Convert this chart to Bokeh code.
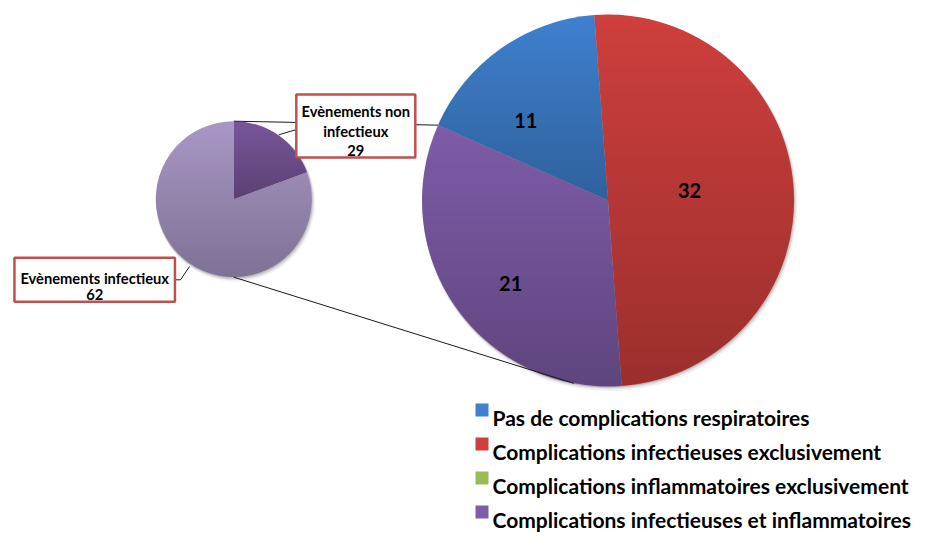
import numpy as np
from bokeh.plotting import figure
from bokeh.models import Range1d
from bokeh.core.properties import value
from bokeh.embed import file_html
from bokeh.resources import INLINE

# ---------------- data ----------------
small_labels = ["Evènements non infectieux", "Evènements infectieux"]
small_counts = [29, 62]
small_arc_share = [0.194, 0.806]          # arc shares as drawn in the reference
small_colors = ["#785699", "#A897C5"]

big_categories = ["Pas de complications respiratoires",
                  "Complications infectieuses exclusivement",
                  "Complications inflammatoires exclusivement",
                  "Complications infectieuses et inflammatoires"]
big_values = [11, 32, 0, 21]
big_colors = ["#3F80CF", "#CE3F3D", "#9BBB59", "#7E5CA8"]

# ---------------- layout (screen px -> data) ----------------
W, H = 932, 533
def sy(y):            # picture y (from top) -> data y
    return H - y

BIG_C = (607.5, sy(200)); BIG_R = 186.0; BIG_START = -66.1
SM_C = (233.3, sy(198.7)); SM_R = 78.0; SM_START = 0.0
GRAD = 0.25
FONT = value("Lato")

p = figure(width=W, height=H, x_range=Range1d(0, W), y_range=Range1d(0, H),
           output_backend="svg", toolbar_location=None, min_border=0)
p.axis.visible = False
p.grid.visible = False
p.outline_line_color = None
p.background_fill_color = "white"


def pie(center, radius, start, shares, colors, shadow=True):
    cx, cy = center
    shares = np.asarray(shares, dtype=float)
    frac = shares / shares.sum()
    edges = start + 360.0 * np.concatenate([[0], np.cumsum(frac)])
    if shadow:
        for off, rr, a in [(3.0, 1.5, 0.10), (2.0, 0.8, 0.18), (1.2, 0.3, 0.25)]:
            p.circle(x=cx + off * 0.6, y=cy - off, radius=radius + rr,
                     fill_color="#808080", fill_alpha=a, line_color=None)
    keep = frac > 0
    t0 = edges[:-1][keep]; t1 = edges[1:][keep]
    p.wedge(x=cx, y=cy, radius=radius,
            start_angle=np.pi / 2 - np.radians(t0), end_angle=np.pi / 2 - np.radians(t1),
            direction="clock", fill_color=np.asarray(colors)[keep], line_color=None)
    # vertical per-slice darkening gradient overlay
    N = int(np.ceil(2 * radius + 4))
    x0 = cx - N / 2.0; y0 = cy - N / 2.0
    jj, ii = np.meshgrid(np.arange(N), np.arange(N))
    px = x0 + jj + 0.5; py = y0 + ii + 0.5
    dx = px - cx; dy = py - cy
    d = np.hypot(dx, dy)
    cov = np.clip(radius - d + 0.5, 0, 1)
    th = (np.degrees(np.arctan2(dx, dy)) - start) % 360.0
    rel = np.cumsum(frac) * 360.0
    idx = np.searchsorted(rel, th, side="right")
    idx = np.clip(idx, 0, len(frac) - 1)
    tt = np.zeros_like(px)
    for k in range(len(frac)):
        if frac[k] <= 0:
            continue
        a = np.radians(np.linspace(edges[k], edges[k + 1], 200))
        ys = np.concatenate([[cy], cy + radius * np.cos(a)])
        top, bot = ys.max(), ys.min()
        m = idx == k
        tt[m] = np.clip((top - py[m]) / max(top - bot, 1), 0, 1)
    img = np.zeros((N, N), dtype=np.uint32)
    view = img.view(dtype=np.uint8).reshape((N, N, 4))
    view[:, :, 3] = (cov * GRAD * tt * 255).astype(np.uint8)
    p.image_rgba(image=[img], x=x0, y=y0, dw=N, dh=N)
    return edges


big_edges = pie(BIG_C, BIG_R, BIG_START, big_values, big_colors)
sm_edges = pie(SM_C, SM_R, SM_START, small_arc_share, small_colors, shadow=True)

# connector lines from the small pie to the big pie
def on_circle(c, r, theta):
    t = np.radians(theta)
    return c[0] + r * np.sin(t), c[1] + r * np.cos(t)

ux, uy = on_circle(SM_C, SM_R, 0.0)
ex1, ey1 = on_circle(BIG_C, BIG_R, big_edges[0])
lx, ly = on_circle(SM_C, SM_R, 180.0)
ex2, ey2 = on_circle(BIG_C, BIG_R, 190.6)
p.segment(x0=[ux, lx], y0=[uy, ly], x1=[ex1, ex2], y1=[ey1, ey2],
          line_color="#1a1a1a", line_width=1)

# leader lines for the small pie labels
p.line(x=[294.5, 278.3], y=[sy(129.5), sy(134.3)], line_color="#1a1a1a", line_width=1)
p.line(x=[173.5, 180.0, 189.0], y=[sy(279.3), sy(279.3), sy(266.0)],
       line_color="#1a1a1a", line_width=1)

# label boxes
BOX_RED = "#C0504D"
p.rect(x=[355.3, 94.2], y=[sy(125.5), sy(279.2)], width=[119, 160.5], height=[63, 44],
       fill_color="white", line_color=BOX_RED, line_width=2.5)

p.text(x=[355.3, 355.3, 355.3], y=[sy(110.7), sy(130.7), sy(150.3)],
       text=["Evènements non", "infectieux", str(small_counts[0])],
       text_font=FONT, text_font_style="bold", text_font_size="14.7px",
       text_align="center", text_baseline="alphabetic", text_color="black")
p.text(x=[94.2, 94.2], y=[sy(277.7), sy(294.3)],
       text=[small_labels[1], str(small_counts[1])],
       text_font=FONT, text_font_style="bold", text_font_size="14.7px",
       text_align="center", text_baseline="alphabetic", text_color="black")

# data labels in the big pie (mid-angle, with small nudges like Excel's best fit)
label_nudge = [-8.3, -7.8, 0.0, -2.8]
label_rho = [0.643, 0.448, 0.5, 0.664]
lxs, lys, lts = [], [], []
for k, v in enumerate(big_values):
    if v <= 0:
        continue
    mid = 0.5 * (big_edges[k] + big_edges[k + 1]) + label_nudge[k]
    x, y = on_circle(BIG_C, BIG_R * label_rho[k], mid)
    lxs.append(x); lys.append(y - 7); lts.append(str(v))
p.text(x=lxs, y=lys, text=lts, text_font=FONT, text_font_style="bold",
       text_font_size="20px", text_align="center", text_baseline="alphabetic",
       text_color="black")

# legend
leg_base = [sy(417.0), sy(451.0), sy(485.0), sy(519.0)]
p.rect(x=[481.5] * 4, y=[b + 7.5 for b in leg_base], width=13, height=13,
       fill_color=big_colors, line_color=None)
p.text(x=[492] * 4, y=leg_base, text=big_categories, text_font=FONT,
       text_font_style="bold", text_font_size="21px", text_align="left",
       text_baseline="alphabetic", text_color="black")

open("out.html", "w").write(file_html(p, INLINE))
